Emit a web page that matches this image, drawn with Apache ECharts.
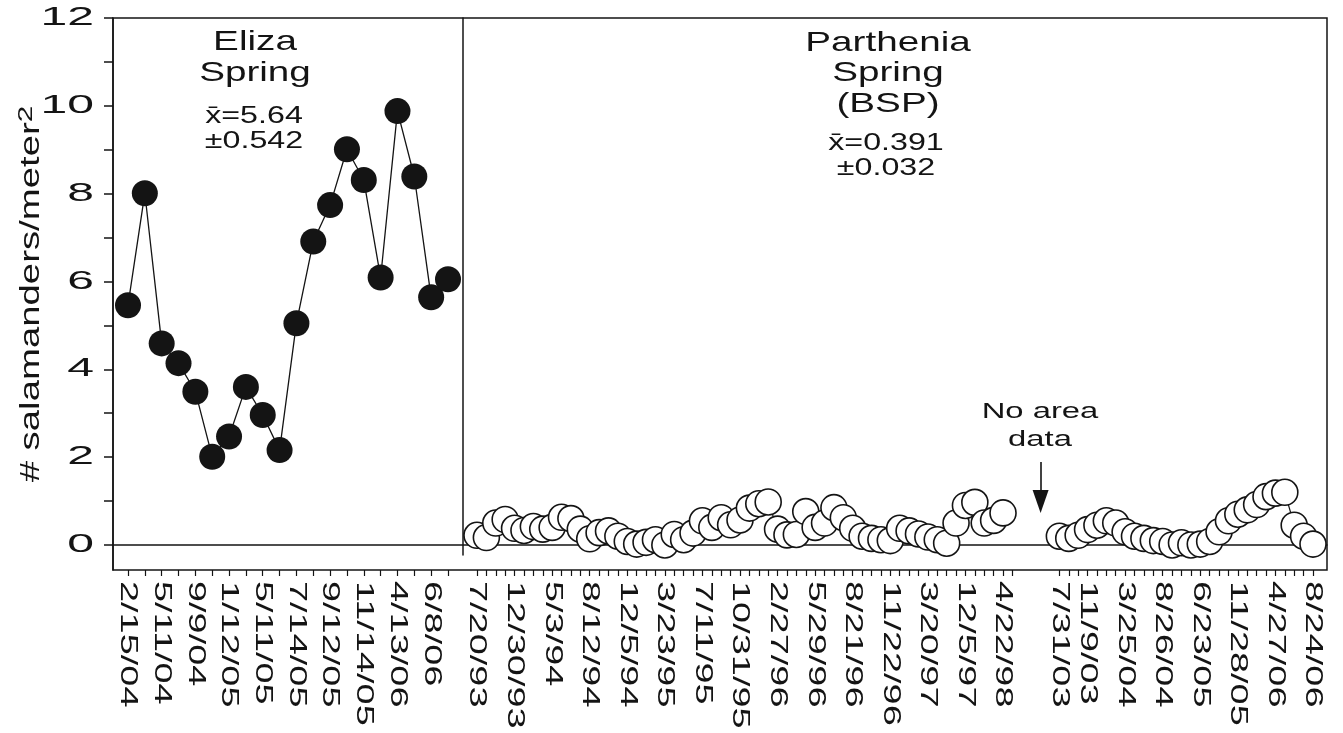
<!DOCTYPE html>
<html>
<head>
<meta charset="utf-8">
<script src="https://cdn.jsdelivr.net/npm/echarts@6/dist/echarts.min.js"></script>
<style>
  html, body { margin: 0; padding: 0; background: #fff; }
  #chart { width: 1343px; height: 733px; }
</style>
</head>
<body>
<div id="chart"></div>
<script>
// ---------------- data ----------------
// Eliza Spring: one label on every second sample
const elizaLabels = ['2/15/04', '5/11/04', '9/9/04', '1/12/05', '5/11/05', '7/14/05', '9/12/05', '11/14/05', '4/13/06', '6/8/06'];
const elizaValues = [5.46, 8.01, 4.59, 4.14, 3.49, 2.01, 2.47, 3.60, 2.96, 2.16,
                     5.05, 6.91, 7.74, 9.01, 8.31, 6.09, 9.88, 8.39, 5.64, 6.05];

// Parthenia Spring (BSP), 1993-1998: one label on every fourth sample
const parthPreLabels = ['7/20/93', '12/30/93', '5/3/94', '8/12/94', '12/5/94', '3/23/95', '7/11/95', '10/31/95',
                        '2/27/96', '5/29/96', '8/21/96', '11/22/96', '3/20/97', '12/5/97', '4/22/98'];
const parthPreValues = [0.22, 0.17, 0.50, 0.58, 0.38, 0.33, 0.42, 0.36, 0.40, 0.63,
                        0.60, 0.36, 0.14, 0.28, 0.32, 0.20, 0.08, 0.02, 0.06, 0.12,
                        0.00, 0.24, 0.12, 0.27, 0.55, 0.40, 0.62, 0.46, 0.57, 0.84,
                        0.94, 0.98, 0.36, 0.23, 0.24, 0.76, 0.40, 0.50, 0.85, 0.62,
                        0.38, 0.20, 0.15, 0.12, 0.10, 0.38, 0.32, 0.25, 0.18, 0.12,
                        0.04, 0.50, 0.90, 0.97, 0.50, 0.56, 0.73];
// samples missing between 1998 and 2003 ("No area data")
const gapSlots = 5;
// Parthenia Spring (BSP), 2003-2006
const parthPostLabels = ['7/31/03', '11/9/03', '3/25/04', '8/26/04', '6/23/05', '11/28/05', '4/27/06', '8/24/06'];
const parthPostLabelAt = [0, 3, 7, 11, 15, 19, 23, 27];
const parthPostValues = [0.20, 0.15, 0.22, 0.35, 0.45, 0.55, 0.50, 0.30, 0.20, 0.15,
                         0.10, 0.08, 0.00, 0.05, 0.00, 0.02, 0.08, 0.30, 0.55, 0.70,
                         0.80, 0.92, 1.10, 1.18, 1.20, 0.45, 0.20, 0.02];

const yTickValues = [0, 1, 2, 3, 4, 5, 6, 7, 8, 9, 10, 11, 12];
const yLabelValues = [0, 2, 4, 6, 8, 10, 12];

// ---------------- wide (extended) lettering like the original ----------------
(function () {
  const STRETCH = { 26: 1.85, 27: 1.42, 21: 1.42, 22: 1.49, 23: 1.4, 24: 1.58, 28: 1.38 };
  const P = CanvasRenderingContext2D.prototype;
  const fill = P.fillText, stroke = P.strokeText, measure = P.measureText;
  function k(ctx) {
    const m = /(\d+(?:\.\d+)?)px/.exec(ctx.font);
    return m ? (STRETCH[Math.round(parseFloat(m[1]))] || 1) : 1;
  }
  P.fillText = function (t, x, y) {
    const s = k(this);
    if (s === 1) return fill.apply(this, arguments);
    this.save(); this.translate(x, y); this.scale(s, 1); fill.call(this, t, 0, 0); this.restore();
  };
  P.strokeText = function (t, x, y) {
    const s = k(this);
    if (s === 1) return stroke.apply(this, arguments);
    this.save(); this.translate(x, y); this.scale(s, 1); stroke.call(this, t, 0, 0); this.restore();
  };
  P.measureText = function (t) {
    const m = measure.call(this, t), s = k(this);
    if (s === 1) return m;
    return {
      width: m.width * s,
      actualBoundingBoxLeft: m.actualBoundingBoxLeft * s,
      actualBoundingBoxRight: m.actualBoundingBoxRight * s,
      actualBoundingBoxAscent: m.actualBoundingBoxAscent,
      actualBoundingBoxDescent: m.actualBoundingBoxDescent,
      fontBoundingBoxAscent: m.fontBoundingBoxAscent,
      fontBoundingBoxDescent: m.fontBoundingBoxDescent
    };
  };
})();

// ---------------- build ----------------
const INK = '#141414';
const FONT = 'Liberation Sans';
const Y_MIN = -0.57, Y_MAX = 12;

const elizaCats = elizaValues.map((_, i) => (i % 2 === 0 ? elizaLabels[i / 2] : ''));

const preLen = parthPreValues.length;
const parthCats = [];
const parthValues = [];
parthPreValues.forEach((v, i) => { parthCats.push(i % 4 === 0 ? parthPreLabels[i / 4] : ''); parthValues.push(v); });
for (let g = 0; g < gapSlots; g++) { parthCats.push(''); parthValues.push(null); }
parthPostValues.forEach((v, j) => {
  const li = parthPostLabelAt.indexOf(j);
  parthCats.push(li >= 0 ? parthPostLabels[li] : '');
  parthValues.push(v);
});
const arrowAt = preLen + gapSlots / 2;

const xLabelStyle = { interval: 0, rotate: -90, fontSize: 24, margin: 11, color: INK, fontFamily: FONT };
const xTickStyle = { color: INK, width: 1.2 };
const hiddenY = (gi) => ({ gridIndex: gi, type: 'value', min: Y_MIN, max: Y_MAX, show: false });
const titleText = (size, lh) => ({ fontSize: size, lineHeight: lh, fontWeight: 'normal', color: INK, fontFamily: FONT });

const chart = echarts.init(document.getElementById('chart'), null, { renderer: 'canvas' });
chart.setOption({
  animation: false,
  backgroundColor: '#fff',
  title: [
    { text: 'Eliza\nSpring', left: 255, top: 27, textAlign: 'center', textVerticalAlign: 'top', padding: 0, textStyle: titleText(28, 31) },
    { text: 'x\u0304=5.64\n\u00b10.542', left: 254, top: 104, textAlign: 'center', textVerticalAlign: 'top', padding: 0, textStyle: titleText(23, 25) },
    { text: 'Parthenia\nSpring\n(BSP)', left: 888, top: 28, textAlign: 'center', textVerticalAlign: 'top', padding: 0, textStyle: titleText(28, 30.5) },
    { text: 'x\u0304=0.391\n\u00b10.032', left: 886, top: 131, textAlign: 'center', textVerticalAlign: 'top', padding: 0, textStyle: titleText(23, 25) },
    { text: 'No area\ndata', left: 1040, top: 398, textAlign: 'center', textVerticalAlign: 'top', padding: 0, textStyle: titleText(22, 28) }
  ],
  grid: [
    { left: 113, top: 18, width: 1214, height: 552, show: true, borderColor: INK, borderWidth: 1.5, backgroundColor: 'transparent', outerBoundsMode: 'none', containLabel: false },
    { left: 128, top: 18, width: 320, height: 552, outerBoundsMode: 'none', containLabel: false },
    { left: 477, top: 18, width: 836, height: 552, outerBoundsMode: 'none', containLabel: false },
    { left: 463, top: 18, width: 10, height: 537, outerBoundsMode: 'none', containLabel: false }
  ],
  xAxis: [
    { gridIndex: 0, type: 'value', min: 0, max: 1,
      axisLine: { show: true, onZero: true, lineStyle: { color: INK, width: 1.5 } },
      axisTick: { show: false }, axisLabel: { show: false }, splitLine: { show: false } },
    { gridIndex: 1, type: 'category', data: elizaCats, boundaryGap: false,
      axisLine: { show: false, onZero: false },
      axisTick: { show: true, interval: 0, length: 6, lineStyle: xTickStyle },
      axisLabel: xLabelStyle, splitLine: { show: false } },
    { gridIndex: 2, type: 'category', data: parthCats, boundaryGap: false,
      axisLine: { show: false, onZero: false },
      axisTick: { show: true, length: 6, lineStyle: xTickStyle,
                  interval: (idx) => idx <= preLen || idx >= preLen + gapSlots },
      axisLabel: xLabelStyle, splitLine: { show: false } },
    { gridIndex: 3, type: 'value', min: 0, max: 1, show: false }
  ],
  yAxis: [
    { gridIndex: 0, type: 'value', min: Y_MIN, max: Y_MAX,
      axisLine: { show: true, onZero: false, lineStyle: { color: INK, width: 1.5 } },
      axisTick: { show: true, length: 9, customValues: yTickValues, lineStyle: { color: INK, width: 1.5 } },
      axisLabel: { customValues: yLabelValues, fontSize: 26, margin: 19, color: INK, fontFamily: FONT },
      splitLine: { show: false },
      name: '# salamanders/meter{sup|2}', nameLocation: 'middle', nameGap: 62, nameMoveOverlap: false,
      nameTextStyle: { fontSize: 27, color: INK, fontFamily: FONT,
        rich: { sup: { fontSize: 21, color: INK, fontFamily: FONT, verticalAlign: 'top', padding: [0, 0, 10, 0] } } } },
    hiddenY(1),
    hiddenY(2),
    { gridIndex: 3, type: 'value', min: 0, max: 1,
      axisLine: { show: true, onZero: false, lineStyle: { color: INK, width: 1.5 } },
      axisTick: { show: false }, axisLabel: { show: false }, splitLine: { show: false } }
  ],
  series: [
    { name: 'Eliza Spring', type: 'line', xAxisIndex: 1, yAxisIndex: 1, data: elizaValues,
      symbol: 'circle', symbolSize: 26, showAllSymbol: true, clip: false,
      itemStyle: { color: INK, borderWidth: 0 },
      lineStyle: { color: INK, width: 1.3 } },
    { name: 'Parthenia Spring (BSP)', type: 'line', xAxisIndex: 2, yAxisIndex: 2, data: parthValues,
      symbol: 'circle', symbolSize: 26, showAllSymbol: true, clip: false, connectNulls: false,
      itemStyle: { color: '#fff', borderColor: INK, borderWidth: 1.6 },
      lineStyle: { color: INK, width: 1.2 },
      markLine: { silent: true, symbol: ['none', 'triangle'], symbolSize: [16, 23],
        label: { show: false }, lineStyle: { color: INK, width: 1.6, type: 'solid' },
        data: [[{ coord: [arrowAt, 1.89] }, { coord: [arrowAt, 0.99] }]] } }
  ]
});
</script>
</body>
</html>
